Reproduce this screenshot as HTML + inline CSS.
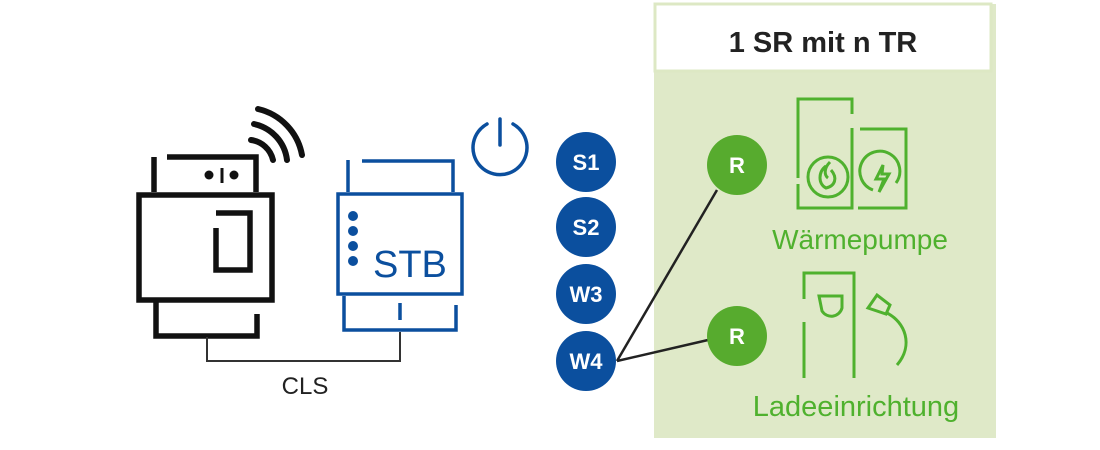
<!DOCTYPE html>
<html><head><style>
html,body{margin:0;padding:0;background:#fff;}
svg{display:block;}
</style></head><body>
<svg width="1100" height="450" viewBox="0 0 1100 450" xmlns="http://www.w3.org/2000/svg" font-family="Liberation Sans, sans-serif">
<!-- green panel -->
<rect x="654" y="4" width="342" height="434" fill="#dfe9c8"/>
<rect x="655" y="4" width="336" height="67" fill="#fff" stroke="#dde8c4" stroke-width="3"/>
<text x="823" y="52" font-size="29" font-weight="bold" text-anchor="middle" fill="#222">1 SR mit n TR</text>

<!-- black device -->
<g fill="none" stroke="#111" stroke-width="5.5">
<line x1="154" y1="157" x2="154" y2="192"/>
<polyline points="167,157 256,157 256,192"/>
<rect x="139" y="195" width="133" height="105"/>
<polyline points="216,228 216,270 250,270 250,213 216,213"/>
<polyline points="156,302 156,336 257,336 257,314"/>
<g stroke-linecap="round" stroke-width="6">
<path d="M251 140 A26 26 0 0 1 273 160"/>
<path d="M254 124 A42 42 0 0 1 287 160"/>
<path d="M258 109 A58 58 0 0 1 302 155"/>
</g>
</g>
<circle cx="209" cy="175" r="4.5" fill="#111"/>
<circle cx="234" cy="175" r="4.5" fill="#111"/>
<line x1="222" y1="168" x2="222" y2="183" stroke="#111" stroke-width="3"/>

<!-- blue device -->
<g fill="none" stroke="#0b4f9e" stroke-width="3.5">
<line x1="348" y1="160" x2="348" y2="192"/>
<polyline points="362,161 453,161 453,192"/>
<rect x="338" y="194" width="124" height="100"/>
<polyline points="344,296 344,330 456,330 456,305"/>
<line x1="400" y1="303" x2="400" y2="320"/>
</g>
<g fill="#0b4f9e">
<circle cx="353" cy="216" r="5"/><circle cx="353" cy="231" r="5"/><circle cx="353" cy="246" r="5"/><circle cx="353" cy="261" r="5"/>
</g>
<text x="373" y="277" font-size="38" fill="#0b4f9e">STB</text>

<!-- CLS -->
<polyline points="207,337 207,361 400,361 400,332" fill="none" stroke="#333" stroke-width="2"/>
<text x="305" y="394" font-size="24" text-anchor="middle" fill="#222">CLS</text>

<!-- power icon -->
<path d="M487 124 A27 27 0 1 0 513 124" fill="none" stroke="#0b4f9e" stroke-width="3.5" stroke-linecap="round"/>
<line x1="500" y1="119" x2="500" y2="145" stroke="#0b4f9e" stroke-width="3.5" stroke-linecap="round"/>

<!-- connectors -->
<g stroke="#222" stroke-width="2.5">
<line x1="617" y1="361" x2="717" y2="190"/>
<line x1="617" y1="361" x2="708" y2="340"/>
</g>

<!-- blue circles -->
<g fill="#0b4f9e">
<circle cx="586" cy="162" r="30"/><circle cx="586" cy="227" r="30"/><circle cx="586" cy="294" r="30"/><circle cx="586" cy="361" r="30"/>
</g>
<g fill="#fff" font-size="22" font-weight="bold" text-anchor="middle">
<text x="586" y="170">S1</text><text x="586" y="235">S2</text><text x="586" y="302">W3</text><text x="586" y="369">W4</text>
</g>

<!-- R circles -->
<circle cx="737" cy="165" r="30" fill="#57ab2e"/>
<circle cx="737" cy="336" r="30" fill="#57ab2e"/>
<g fill="#fff" font-size="22" font-weight="bold" text-anchor="middle">
<text x="737" y="173">R</text><text x="737" y="344">R</text>
</g>

<!-- heat pump icon -->
<g fill="none" stroke="#4fb12e" stroke-width="3">
<polyline points="798,178 798,99 852,99 852,114"/>
<polyline points="798,184 798,208 852,208 852,128"/>
<polyline points="860,129 906,129 906,208 858,208"/>
<circle cx="828" cy="177" r="20"/>
<path d="M873 190 A20 20 0 1 1 896 183"/>
<path d="M826 166 C818 172 818 184 826 188 C835 186 838 178 831 170 M830 162 C824 168 824 175 828 178"/>
<path d="M883 165 L876 179 L884 179 L879 192 L889 174 L882 174 Z"/>
</g>
<text x="860" y="249" font-size="28" fill="#4fb12e" text-anchor="middle">Wärmepumpe</text>

<!-- charger icon -->
<g fill="none" stroke="#4fb12e" stroke-width="3">
<polyline points="804,299 804,273 854,273 854,378"/>
<line x1="804" y1="322" x2="804" y2="378"/>
<path d="M819 296 L842 296 L842 308 A11 11 0 0 1 822 311 Z"/>
<path d="M868 308 L877 295 L890 305 L886 314 Z"/>
<path d="M887 313 C905 322 914 345 897 365"/>
</g>
<text x="856" y="416" font-size="29" fill="#4fb12e" text-anchor="middle">Ladeeinrichtung</text>
</svg>
</body></html>
